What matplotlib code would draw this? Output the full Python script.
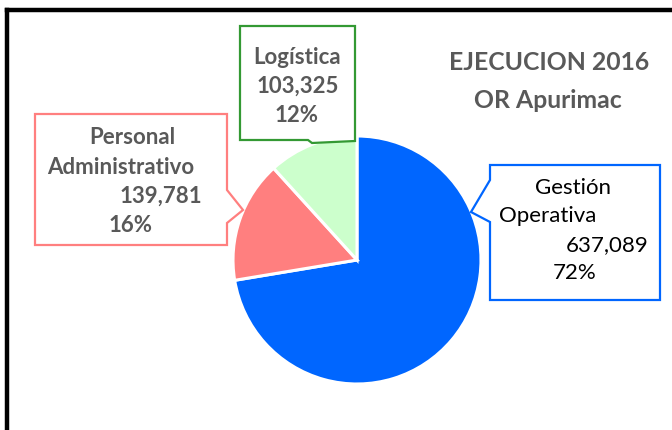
import matplotlib.pyplot as plt
from matplotlib.patches import Polygon

categories = ['Gestión Operativa', 'Personal Administrativo', 'Logística']
values = [637089, 139781, 103325]
colors = ['#0066FF', '#FF7F7F', '#CCFFCC']
border_colors = ['#0066FF', '#FF7F7F', '#339933']
title = 'EJECUCION 2016\nOR Apurimac'

W, H = 672, 430
fig = plt.figure(figsize=(W / 100, H / 100), dpi=100)
ax = fig.add_axes([0, 0, 1, 1])

def Y(y):
    # pixel row (from top) -> data y
    return H - y

# frame (only left and top edges visible in the crop)
ax.plot([7, 7], [Y(430), Y(9.5)], color='black', lw=3.2, solid_capstyle='projecting')
ax.plot([7, W], [Y(9.5), Y(9.5)], color='black', lw=3.2, solid_capstyle='projecting')

ax.pie(values, colors=colors, startangle=90, counterclock=False,
       center=(357, Y(260)), radius=124, frame=True,
       wedgeprops=dict(edgecolor='white', linewidth=2.2))
ax.set_xlim(0, W)
ax.set_ylim(0, H)
ax.axis('off')

# callout boxes (pixel coords from top-left)
boxes = [
    [(490, 165), (660, 165), (660, 300), (490, 300), (490, 222), (471, 212), (490, 180)],
    [(35, 114), (227, 114), (227, 190), (243, 210), (227, 223), (227, 245), (35, 245)],
    [(240, 26), (355, 26), (355, 141), (312, 143), (308, 140), (240, 140)],
]
for pts, ec in zip(boxes, border_colors):
    ax.add_patch(Polygon([(x, Y(y)) for x, y in pts], closed=True,
                         facecolor='white', edgecolor=ec, lw=1.6, zorder=3))

total = sum(values)
pcts = ['{:.0f}%'.format(v / total * 100) for v in values]
vals = ['{:,}'.format(v) for v in values]

font = 'Lato'
gray = '#595959'
fs = 16

# Gestión Operativa
g1, g2 = categories[0].split(' ')
for txt, x, y in [(g1, 573, 188), (g2, 548, 216), (vals[0], 607, 245), (pcts[0], 575, 273)]:
    ax.text(x, Y(y), txt, ha='center', va='center', fontsize=fs,
            family=font, color='black', zorder=4)

# Personal Administrativo
p1, p2 = categories[1].split(' ')
for txt, x, y in [(p1, 132, 138), (p2, 121, 167), (vals[1], 161, 196), (pcts[1], 131, 225)]:
    ax.text(x, Y(y), txt, ha='center', va='center', fontsize=fs,
            family=font, weight='bold', color=gray, zorder=4)

# Logística
for txt, x, y in [(categories[2], 297, 57), (vals[2], 298, 86), (pcts[2], 297, 115)]:
    ax.text(x, Y(y), txt, ha='center', va='center', fontsize=fs,
            family=font, weight='bold', color=gray, zorder=4)

t1, t2 = title.split('\n')
ax.text(549, Y(63), t1, ha='center', va='center', fontsize=17.8,
        family=font, weight='bold', color=gray)
ax.text(548, Y(100), t2, ha='center', va='center', fontsize=17.8,
        family=font, weight='bold', color=gray)

fig.savefig('out.png', dpi=100)
